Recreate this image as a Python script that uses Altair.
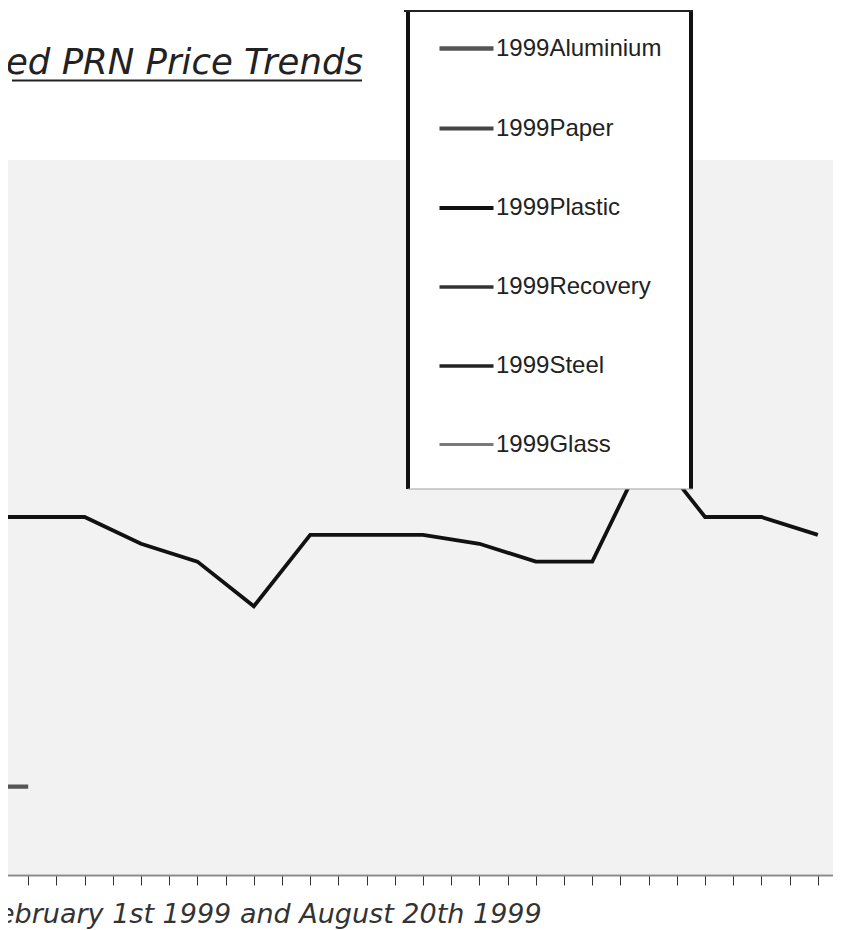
import altair as alt
import pandas as pd

# ---- data ----
series_order = ["1999Aluminium", "1999Paper", "1999Plastic", "1999Recovery", "1999Steel", "1999Glass"]
series_colors = ["#555555", "#454545", "#111111", "#333333", "#222222", "#7a7a7a"]
series_widths = [4.3, 3.0, 3.2, 3.6, 3.6, 1.3]

plastic_weeks = [-1, 1, 3, 5, 7, 9, 11, 13, 15, 17, 19, 21, 23, 25, 27, 29]
plastic_values = [20, 20, 20, 18.5, 17.5, 15, 19, 19, 19, 18.5, 17.5, 17.5, 24, 20, 20, 19]

aluminium_weeks = [-1, 1]
aluminium_values = [4.9, 4.9]

tick_weeks = list(range(0, 30))

title_text = "ed PRN Price Trends"
axis_title_text = "ebruary 1st 1999 and August 20th 1999"

rows = []
for w, v in zip(plastic_weeks, plastic_values):
    rows.append({"week": w, "price": v, "series": "1999Plastic"})
for w, v in zip(aluminium_weeks, aluminium_values):
    rows.append({"week": w, "price": v, "series": "1999Aluminium"})
df = pd.DataFrame(rows)

legend = alt.Legend(
    orient="none", legendX=437, legendY=-141, title=None,
    symbolType="stroke", symbolSize=2916, labelFontSize=24,
    labelFont="Liberation Sans", labelColor="#222222", labelOffset=0,
    labelLimit=400, rowPadding=38, padding=0,
)

lines = alt.Chart(df).mark_line(strokeJoin="miter").encode(
    x=alt.X("week:Q", scale=alt.Scale(domain=[0, 29.82], nice=False, zero=False),
            axis=alt.Axis(values=tick_weeks, labels=False, title=None, grid=False,
                          domainColor="#8a8a8a", domainWidth=2, tickColor="#333333",
                          tickSize=10, tickWidth=1, offset=1)),
    y=alt.Y("price:Q", scale=alt.Scale(domain=[0, 40], nice=False), axis=None),
    color=alt.Color("series:N", scale=alt.Scale(domain=series_order, range=series_colors), legend=legend),
    strokeWidth=alt.StrokeWidth("series:N", scale=alt.Scale(domain=series_order, range=series_widths), legend=legend),
)

one = pd.DataFrame({"k": [0]})
base = alt.Chart(one)

box = base.mark_rect(fill="white").encode(
    x=alt.value(408), x2=alt.value(691), y=alt.value(-150), y2=alt.value(329))
left_border = base.mark_rule(color="#111111", strokeWidth=4).encode(
    x=alt.value(408), y=alt.value(-150), y2=alt.value(329))
right_border = base.mark_rule(color="#111111", strokeWidth=4).encode(
    x=alt.value(691), y=alt.value(-150), y2=alt.value(329))
top_border = base.mark_rule(color="#222222", strokeWidth=2).encode(
    x=alt.value(404), x2=alt.value(693), y=alt.value(-149))
bottom_border = base.mark_rule(color="#a0a0a0", strokeWidth=1).encode(
    x=alt.value(408), x2=alt.value(693), y=alt.value(329))

title = base.mark_text(align="left", baseline="alphabetic", fontSize=35.5, fontStyle="italic",
                       font="DejaVu Sans", color="#222222").encode(
    x=alt.value(6), y=alt.value(-86), text=alt.value(title_text))
underline = base.mark_rule(color="#222222", strokeWidth=2).encode(
    x=alt.value(12), x2=alt.value(362), y=alt.value(-79.5))
axis_title = base.mark_text(align="left", baseline="alphabetic", fontSize=27, fontStyle="italic",
                            font="DejaVu Sans", color="#333333").encode(
    x=alt.value(-2), y=alt.value(763), text=alt.value(axis_title_text))

chart = alt.layer(
    lines, box, left_border, right_border, top_border, bottom_border,
    title, underline, axis_title
).properties(
    width=841, height=714,
    padding={"left": -8, "top": 152, "right": -8, "bottom": 56},
    autosize=alt.AutoSizeParams(type="none"),
).configure_view(fill="#f2f2f2", strokeWidth=0)

chart.save("out.html", embed_options={"renderer": "svg", "actions": False})
